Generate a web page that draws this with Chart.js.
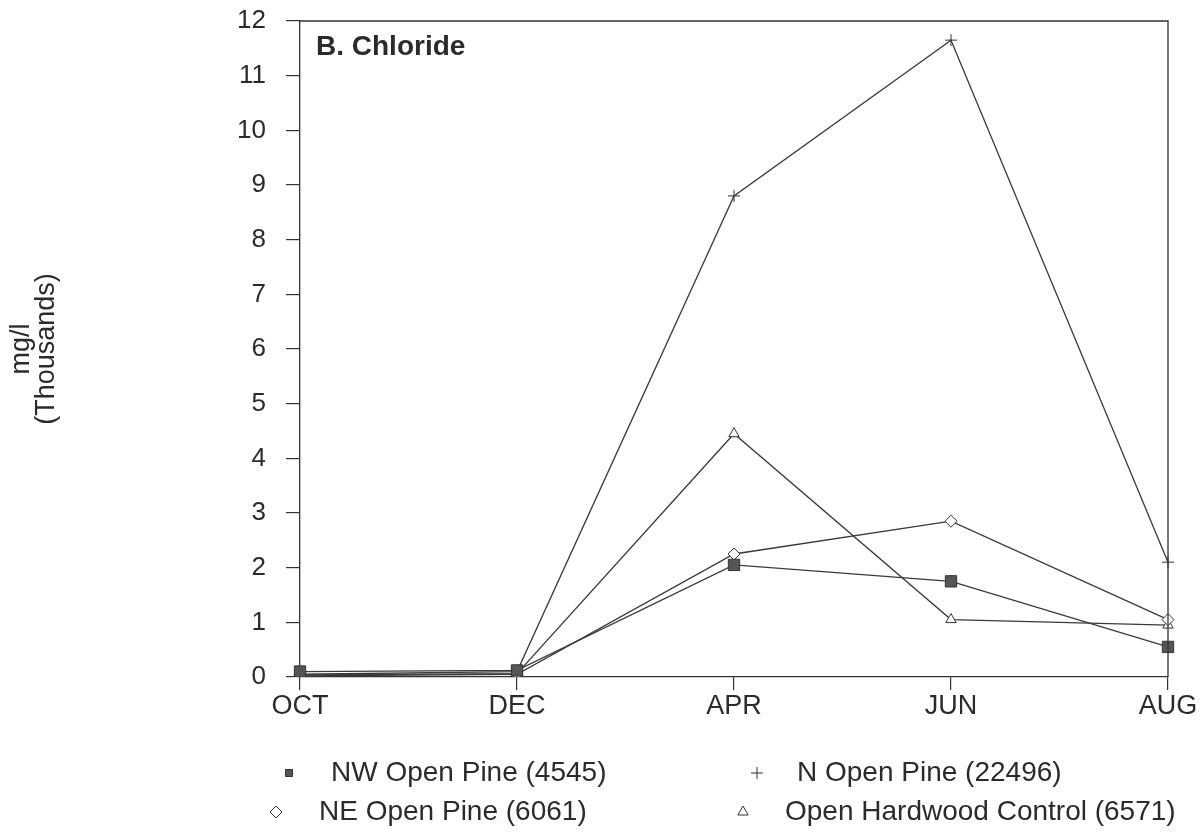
<!DOCTYPE html>
<html>
<head>
<meta charset="utf-8">
<script src="https://cdn.jsdelivr.net/npm/chart.js@4.4.1/dist/chart.umd.min.js"></script>
<style>
  html, body { margin: 0; padding: 0; background: #fff; }
  #wrap { width: 1204px; height: 832px; position: relative; }
</style>
</head>
<body>
<div id="wrap"><canvas id="chart"></canvas></div>
<script>
// ─── DATA ─────────────────────────────────────────────────
const months = ['OCT', 'DEC', 'APR', 'JUN', 'AUG'];
const nwOpenPine = [0.10, 0.12, 2.05, 1.75, 0.55];
const nOpenPine = [0.05, 0.10, 8.80, 11.65, 2.10];
const neOpenPine = [0.02, 0.05, 2.25, 2.85, 1.05];
const hardwoodControl = [0.04, 0.06, 4.45, 1.05, 0.95];
const seriesLabels = ['NW Open Pine (4545)', 'N Open Pine (22496)', 'NE Open Pine (6061)', 'Open Hardwood Control (6571)'];
const yTicks = [0, 1, 2, 3, 4, 5, 6, 7, 8, 9, 10, 11, 12];

const INK = '#2b2b2b';
const FONT = 'Liberation Sans, Arial, Helvetica, sans-serif';

// ─── FRAME + PANEL TITLE + LEGEND ─────────────────────────
const framePlugin = {
  id: 'frame',
  afterDraw(chart) {
    const { ctx, chartArea: a } = chart;
    ctx.save();
    ctx.strokeStyle = '#333';
    ctx.lineWidth = 1.3;
    ctx.beginPath();
    ctx.moveTo(a.left, a.top);
    ctx.lineTo(a.right, a.top);
    ctx.lineTo(a.right, a.bottom);
    ctx.stroke();
    ctx.fillStyle = INK;
    ctx.font = 'bold 28px ' + FONT;
    ctx.textBaseline = 'middle';
    ctx.fillText('B. Chloride', a.left + 16, a.top + 26);
    ctx.restore();
  }
};

const legendPlugin = {
  id: 'cornerLegend',
  afterDraw(chart) {
    const { ctx } = chart;
    const spots = [
      { mx: 289, tx: 331, y: 773 },
      { mx: 757, tx: 797, y: 773 },
      { mx: 276, tx: 319, y: 812 },
      { mx: 743, tx: 785, y: 812 }
    ];
    ctx.save();
    chart.data.datasets.forEach((ds, i) => {
      const s = spots[i];
      ctx.strokeStyle = '#333';
      ctx.fillStyle = ds.pointBackgroundColor;
      ctx.lineWidth = 1;
      Chart.helpers.drawPoint(ctx, { pointStyle: ds.pointStyle, radius: ds.legendRadius, borderWidth: 1 }, s.mx, s.y);
      ctx.fillStyle = INK;
      ctx.font = '28px ' + FONT;
      ctx.textBaseline = 'middle';
      ctx.fillText(ds.label, s.tx, s.y);
    });
    ctx.restore();
  }
};

// ─── CHART ────────────────────────────────────────────────
function makeSet(label, data, style, fill, radius, legendRadius) {
  return {
    label, data,
    borderColor: '#3a3a3a',
    borderWidth: 1.3,
    pointStyle: style,
    pointRadius: radius,
    pointBorderColor: '#333',
    pointBorderWidth: 1,
    pointBackgroundColor: fill,
    legendRadius,
    tension: 0,
    fill: false
  };
}

new Chart(document.getElementById('chart'), {
  type: 'line',
  data: {
    labels: months,
    datasets: [
      makeSet(seriesLabels[0], nwOpenPine, 'rect', '#555', 8, 5),
      makeSet(seriesLabels[1], nOpenPine, 'cross', '#333', 6, 6),
      makeSet(seriesLabels[2], neOpenPine, 'rectRot', '#fff', 6, 6),
      makeSet(seriesLabels[3], hardwoodControl, 'triangle', '#fff', 6, 6)
    ]
  },
  options: {
    responsive: true,
    maintainAspectRatio: false,
    animation: false,
    layout: { padding: { left: 0, top: 21, right: 36, bottom: 0 } },
    plugins: {
      legend: { display: false },
      tooltip: { enabled: false }
    },
    scales: {
      x: {
        offset: false,
        grid: { drawOnChartArea: false, drawTicks: true, tickLength: 13, color: '#333', lineWidth: 1.2 },
        border: { color: '#333', width: 1.3 },
        ticks: { color: INK, font: { family: FONT, size: 27 }, padding: 0, maxRotation: 0 },
        afterFit: s => { s.height = 155; }
      },
      y: {
        min: 0, max: 12,
        afterBuildTicks: s => { s.ticks = yTicks.map(v => ({ value: v })); },
        grid: { drawOnChartArea: false, drawTicks: true, tickLength: 14, color: '#333', lineWidth: 1.2 },
        border: { color: '#333', width: 1.3 },
        ticks: { color: INK, font: { family: FONT, size: 26 }, padding: 20 },
        title: {
          display: true,
          text: ['mg/l', '(Thousands)'],
          color: INK,
          font: { family: FONT, size: 27, lineHeight: 0.93 },
          padding: { top: 9, bottom: 0 }
        },
        afterFit: s => { s.width = 300; s.paddingTop = 0; s.paddingBottom = 0; }
      }
    }
  },
  plugins: [framePlugin, legendPlugin]
});
</script>
</body>
</html>
